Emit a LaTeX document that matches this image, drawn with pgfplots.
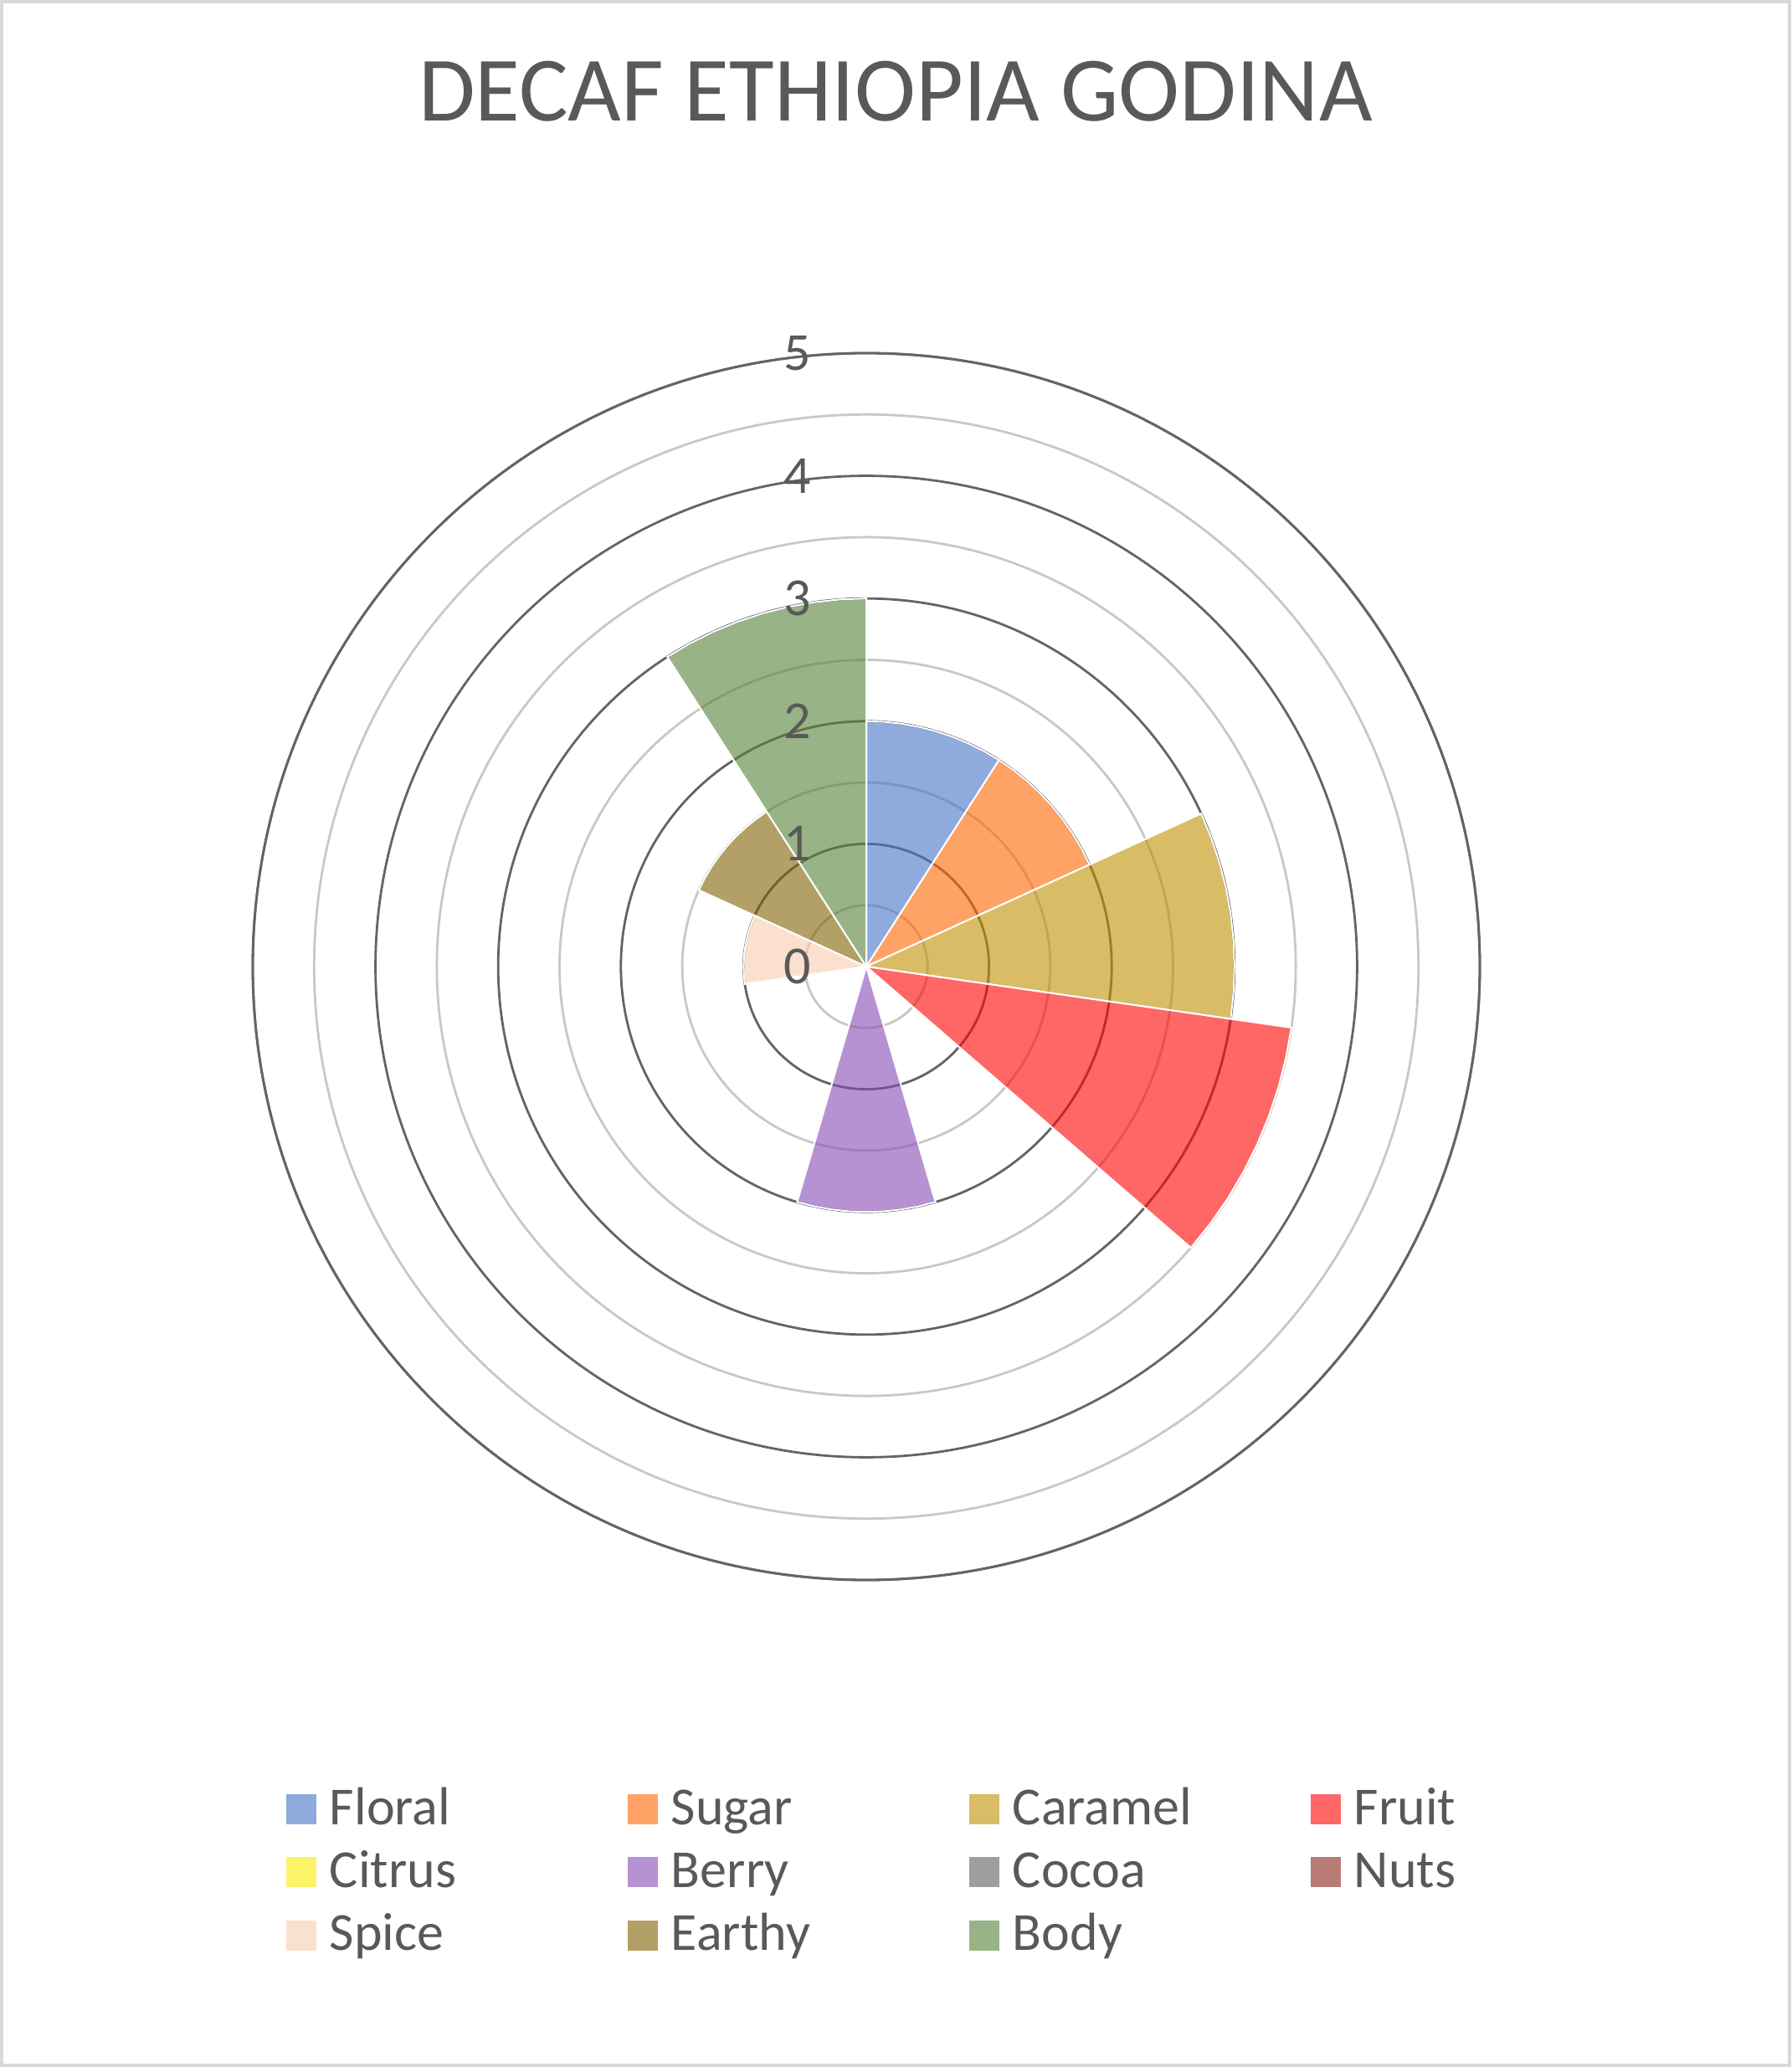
\documentclass[border=0pt]{standalone}
\usepackage{fontspec}
\setmainfont{Carlito}
\usepackage{pgfplots}
\pgfplotsset{compat=1.18}
\usepgfplotslibrary{polar}
\definecolor{txt}{RGB}{89,89,89}
\definecolor{majg}{RGB}{100,100,100}
\definecolor{ming}{RGB}{200,200,200}
\definecolor{frm}{RGB}{217,217,217}
\definecolor{cFloral}{RGB}{68,114,196}
\definecolor{cSugar}{RGB}{255,100,0}
\definecolor{cCaramel}{RGB}{191,143,0}
\definecolor{cFruit}{RGB}{255,0,0}
\definecolor{cCitrus}{RGB}{250,235,5}
\definecolor{cBerry}{RGB}{135,73,180}
\definecolor{cCocoa}{RGB}{93,93,93}
\definecolor{cNuts}{RGB}{137,35,27}
\definecolor{cSpice}{RGB}{248,203,173}
\definecolor{cEarthy}{RGB}{127,96,0}
\definecolor{cBody}{RGB}{84,130,53}
\tikzset{sec/.style={fill=#1, draw=white, line width=0.5pt, fill opacity=0.6}}
\begin{document}
\begin{tikzpicture}
\begin{polaraxis}[
  name=pol, scale only axis, width=366.5pt, height=366.5pt,
  ymin=0, ymax=5,
  xtick=\empty, ytick={1,2,3,4,5}, minor ytick={0.5,1.5,2.5,3.5,4.5},
  yticklabels={}, ymajorgrids, yminorgrids,
  major tick length=0pt, minor tick length=0pt,
  major grid style={draw=majg, line width=0.7pt},
  minor grid style={draw=ming, line width=0.7pt},
  axis line style={draw=majg, line width=0.7pt},
  y axis line style={draw=none},
  clip=false, no markers,
  legend columns=4,
  legend cell align=left,
  legend style={at={(0.5,0.5)}, anchor=north west, xshift=-173.25pt, yshift=-244.3pt,
    draw=none, fill=none, inner sep=0pt, outer sep=0pt, row sep=2.8pt,
    font=\fontsize{16}{16}\selectfont, text=txt,
    nodes={inner sep=0pt, text height=12pt, text depth=4pt, anchor=base west},
    /tikz/every odd column/.append style={column sep=4pt}},
  legend image code/.code={\fill[#1,draw=none] (0pt,0pt) rectangle (9pt,9pt);},
]
\coordinate (C) at (axis cs:0,0);
% Floral = 2
\addplot[sec=cFloral] coordinates {(90,0) (90,2) (85.909,2) (81.818,2) (77.727,2) (73.636,2) (69.545,2) (65.455,2) (61.364,2) (57.273,2) (57.273,0)} --cycle;
\addlegendentry{\makebox[89pt][l]{Floral}}
% Sugar = 2
\addplot[sec=cSugar] coordinates {(57.273,0) (57.273,2) (53.182,2) (49.091,2) (45,2) (40.909,2) (36.818,2) (32.727,2) (28.636,2) (24.545,2) (24.545,0)} --cycle;
\addlegendentry{\makebox[89pt][l]{Sugar}}
% Caramel = 3
\addplot[sec=cCaramel] coordinates {(24.545,0) (24.545,3) (20.455,3) (16.364,3) (12.273,3) (8.182,3) (4.091,3) (0,3) (-4.091,3) (-8.182,3) (-8.182,0)} --cycle;
\addlegendentry{\makebox[89pt][l]{Caramel}}
% Fruit = 3.5
\addplot[sec=cFruit] coordinates {(-8.182,0) (-8.182,3.5) (-12.273,3.5) (-16.364,3.5) (-20.455,3.5) (-24.545,3.5) (-28.636,3.5) (-32.727,3.5) (-36.818,3.5) (-40.909,3.5) (-40.909,0)} --cycle;
\addlegendentry{\makebox[89pt][l]{Fruit}}
% Citrus = 0
\addplot[sec=cCitrus] coordinates {(-40.909,0) (-73.636,0)};
\addlegendentry{\makebox[89pt][l]{Citrus}}
% Berry = 2
\addplot[sec=cBerry] coordinates {(-73.636,0) (-73.636,2) (-77.727,2) (-81.818,2) (-85.909,2) (-90,2) (-94.091,2) (-98.182,2) (-102.273,2) (-106.364,2) (-106.364,0)} --cycle;
\addlegendentry{\makebox[89pt][l]{Berry}}
% Cocoa = 0
\addplot[sec=cCocoa] coordinates {(-106.364,0) (-139.091,0)};
\addlegendentry{\makebox[89pt][l]{Cocoa}}
% Nuts = 0
\addplot[sec=cNuts] coordinates {(-139.091,0) (-171.818,0)};
\addlegendentry{\makebox[89pt][l]{Nuts}}
% Spice = 1
\addplot[sec=cSpice] coordinates {(-171.818,0) (-171.818,1) (-175.909,1) (-180,1) (-184.091,1) (-188.182,1) (-192.273,1) (-196.364,1) (-200.455,1) (-204.545,1) (-204.545,0)} --cycle;
\addlegendentry{\makebox[89pt][l]{Spice}}
% Earthy = 1.5
\addplot[sec=cEarthy] coordinates {(-204.545,0) (-204.545,1.5) (-208.636,1.5) (-212.727,1.5) (-216.818,1.5) (-220.909,1.5) (-225,1.5) (-229.091,1.5) (-233.182,1.5) (-237.273,1.5) (-237.273,0)} --cycle;
\addlegendentry{\makebox[89pt][l]{Earthy}}
% Body = 3
\addplot[sec=cBody] coordinates {(-237.273,0) (-237.273,3) (-241.364,3) (-245.455,3) (-249.545,3) (-253.636,3) (-257.727,3) (-261.818,3) (-265.909,3) (-270,3) (-270,0)} --cycle;
\addlegendentry{\makebox[89pt][l]{Body}}
% radial tick labels
\addplot[draw=none, forget plot, nodes near coords, point meta=explicit symbolic,
  every node near coord/.style={anchor=center, xshift=-20.5pt, yshift=0pt,
    font=\fontsize{16}{16}\selectfont, text=txt, text opacity=1}]
  coordinates {(90,0)[0] (90,1)[1] (90,2)[2] (90,3)[3] (90,4)[4] (90,5)[5]};
\end{polaraxis}
\node[anchor=base, font=\fontsize{27.5}{27.5}\selectfont, text=txt] at ([shift={(8.75pt,252.5pt)}]C) {DECAF ETHIOPIA GODINA};
\draw[frm, line width=1pt] ([shift={(-258.25pt,288.25pt)}]C) rectangle ([shift={(275.75pt,-328.25pt)}]C);
\end{tikzpicture}
\end{document}
